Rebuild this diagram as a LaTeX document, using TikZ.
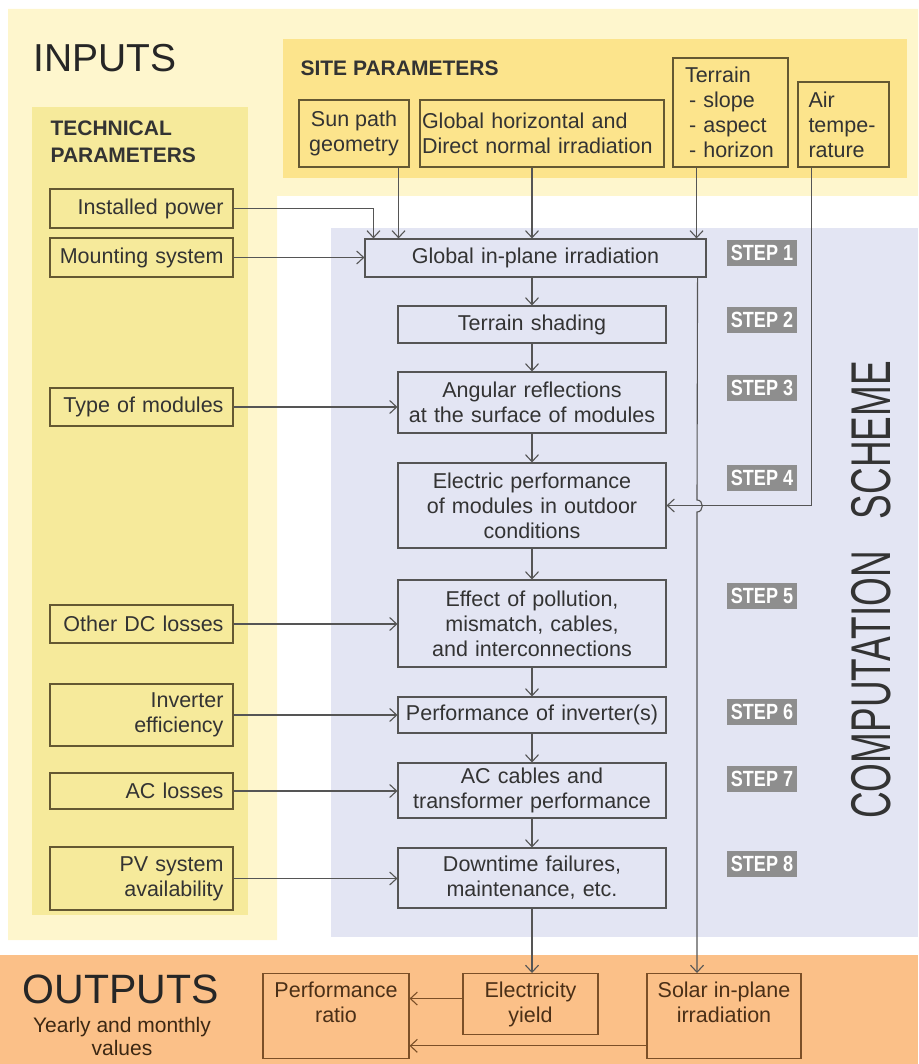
\documentclass[tikz,border=0pt]{standalone}
\usepackage{fontspec}
\setmainfont{Liberation Sans}
\usepackage{graphicx}
\usetikzlibrary{arrows.meta}
\definecolor{paley}{HTML}{FEF6CD}
\definecolor{sitey}{HTML}{FCE48C}
\definecolor{techy}{HTML}{F6EA9B}
\definecolor{lav}{HTML}{E3E5F3}
\definecolor{orng}{HTML}{FBC088}
\definecolor{olv}{HTML}{645832}
\definecolor{gry}{HTML}{555555}
\definecolor{brn}{HTML}{7B4F27}
\definecolor{stepg}{HTML}{8E8E8E}
\definecolor{txt}{HTML}{333333}
\newcommand{\bx}{\fontsize{21.5}{25}\selectfont}
\newcommand{\stp}[1]{\scalebox{0.82}[1]{\fontsize{22}{22}\selectfont\bfseries STEP #1}}
\newcommand{\narrow}[1]{\scalebox{0.66}[1]{\fontsize{56}{56}\selectfont #1}}

\begin{document}
\begin{tikzpicture}[x=1pt, y=-1pt, line width=1.1pt,
		>={Straight Barb[length=7pt,width=13pt]},
		every node/.style={font=\bx, text=txt, inner sep=0pt},
		tech/.style={draw=olv, fill=techy, minimum width=183pt, text width=164pt, align=right},
		site/.style={draw=olv, fill=sitey, align=left},
		calc/.style={draw=gry, fill=lav, minimum width=268pt, text width=262pt, align=center},
		outp/.style={draw=brn, fill=orng, text=brn!60!black, align=center, inner ysep=8pt, anchor=north},
		stepbox/.style={fill=stepg, text=white, minimum width=70pt, minimum height=26pt, anchor=north},
		flow/.style={->, draw=gry}]
		\useasboundingbox (0,0) rectangle (918,1064);
		% backgrounds
		\fill[paley] (8,9) -- (918,9) -- (918,196) -- (277,196) -- (277,940) -- (8,940) -- cycle;
		\fill[sitey] (283,39) rectangle (907,178);
		\fill[techy] (32,107) rectangle (248,915);
		\fill[lav] (331,228) rectangle (918,937);
		\fill[orng] (0,955) rectangle (918,1064);
		% inputs
		\node[anchor=base west, font=\fontsize{39}{39}\selectfont, text=black!85] (inp) at (33,72) {INPUTS};
		\node[anchor=base west, font=\fontsize{21}{21}\selectfont\bfseries] (sitet) at (300,76) {SITE PARAMETERS};
		\node[anchor=north west, align=left, font=\fontsize{21}{27}\selectfont\bfseries] (techt) at (50,120) {TECHNICAL\\PARAMETERS};
		\node[site, align=center, minimum width=110pt, minimum height=67pt] (sun) at (354,133.5) {Sun path\\geometry};
		\node[site, minimum width=244pt, minimum height=67pt, text width=240pt] (ghi) at (542,133.5) {Global horizontal and\\Direct normal irradiation};
		\node[site, minimum width=115pt, minimum height=109pt, text width=91pt] (terr) at (730.5,112.5) {Terrain\\\hspace*{4pt}- slope\\\hspace*{4pt}- aspect\\\hspace*{4pt}- horizon};
		\node[site, minimum width=91pt, minimum height=85pt, text width=70pt] (air) at (843.5,124.5) {Air\\tempe-\\rature};
		\node[tech, minimum height=39pt] (inst) at (141.5,208.5) {Installed power};
		\node[tech, minimum height=39pt] (mount) at (141.5,257.5) {Mounting system};
		\node[tech, minimum height=38pt] (type) at (141.5,407) {Type of modules};
		\node[tech, minimum height=38pt] (dcl) at (141.5,624) {Other DC losses};
		\node[tech, minimum height=62pt] (inv) at (141.5,715) {Inverter\\efficiency};
		\node[tech, minimum height=36pt] (acl) at (141.5,791) {AC losses};
		\node[tech, minimum height=63pt] (avail) at (141.5,878.5) {PV system\\availability};
		% computation scheme
		\node[calc, minimum width=341pt, text width=330pt, minimum height=38pt] (glob) at (535.5,258) {Global in-plane irradiation};
		\node[calc, minimum height=37pt] (shad) at (532,324.5) {Terrain shading};
		\node[calc, minimum height=61pt] (refl) at (532,402.5) {Angular reflections\\at the surface of modules};
		\node[calc, minimum height=85pt] (elec) at (532,505.5) {Electric performance\\of modules in outdoor\\conditions};
		\node[calc, minimum height=87pt] (eff) at (532,623.5) {Effect of pollution,\\mismatch, cables,\\and interconnections};
		\node[calc, minimum height=36pt] (pinv) at (532,715) {Performance of inverter(s)};
		\node[calc, minimum height=55pt] (acc) at (532,790.5) {AC cables and\\transformer performance};
		\node[calc, minimum height=60pt] (down) at (532,878) {Downtime failures,\\maintenance, etc.};
		\node[stepbox] (s1) at (762,239) {\stp{1}};
		\node[stepbox] (s2) at (762,306) {\stp{2}};
		\node[stepbox] (s3) at (762,374) {\stp{3}};
		\node[stepbox] (s4) at (762,464) {\stp{4}};
		\node[stepbox] (s5) at (762,582) {\stp{5}};
		\node[stepbox] (s6) at (762,698) {\stp{6}};
		\node[stepbox] (s7) at (762,765) {\stp{7}};
		\node[stepbox] (s8) at (762,850) {\stp{8}};
		\node[rotate=90, text=black!80] (scheme) at (871,440) {\narrow{SCHEME}};
		\node[rotate=90, text=black!80] (comp) at (871,685) {\narrow{COMPUTATION}};
		% outputs
		\node[anchor=base west, font=\fontsize{41}{41}\selectfont, text=black!85] (outt) at (22,1003) {OUTPUTS};
		\node[align=center, font=\fontsize{21}{23}\selectfont, text=brn!50!black] (yrs) at (122,1036) {Yearly and monthly\\values};
		\node[outp, minimum width=146pt, text depth=28pt] (perf) at (336,973) {Performance\\ratio};
		\node[outp, minimum width=135pt, minimum height=61pt] (yield) at (530.5,973) {Electricity\\yield};
		\node[outp, minimum width=154pt, text depth=28pt] (solar) at (724,973) {Solar in-plane\\irradiation};
		% connectors
		\coordinate (gl) at ([xshift=9pt]glob.north west);
		\coordinate (sp) at ([xshift=-11pt]sun.south east);
		\coordinate (tr) at ([xshift=-10pt]glob.north east);
		\coordinate (ar) at ([xshift=14pt]air.south west);
		\coordinate (hop) at (697,506);
		\coordinate (yl) at ([yshift=5.5pt]yield.west);
		\coordinate (sr) at ([yshift=-30pt]solar.west);
		\draw[flow] (inst) -| (gl);
		\draw[flow] (mount) -- (mount -| glob.west);
		\draw[flow] (sp) -- (sp |- glob.north);
		\draw[flow] (shad.north |- ghi.south) -- (shad.north |- glob.north);
		\draw[flow] (tr |- terr.south) -- (tr);
		\draw[flow] (shad.north |- glob.south) -- (shad);
		\draw[flow] (shad) edge (refl) (refl) edge (elec) (elec) edge (eff)
			(eff) edge (pinv) (pinv) edge (acc) (acc) edge (down);
		\draw[flow] (type) -- (type -| refl.west);
		\draw[flow] (dcl) -- (dcl -| eff.west);
		\draw[flow] (inv) -- (inv -| pinv.west);
		\draw[flow] (acl) -- (acl -| acc.west);
		\draw[flow] (avail) -- (avail -| down.west);
		\draw[flow] (ar) |- (elec);
		\draw[flow] ([xshift=-9pt]glob.south east) -- ([yshift=6pt]hop)
			.. controls +(7,0) and +(7,0) .. ([yshift=-6pt]hop) -- (hop |- solar.north);
		\draw[flow] (down) -- (down |- yield.north);
		\draw[->, draw=brn] (yl) -- (yl -| perf.east);
		\draw[->, draw=brn] (sr) -- (sr -| perf.east);
\end{tikzpicture}
\end{document}
